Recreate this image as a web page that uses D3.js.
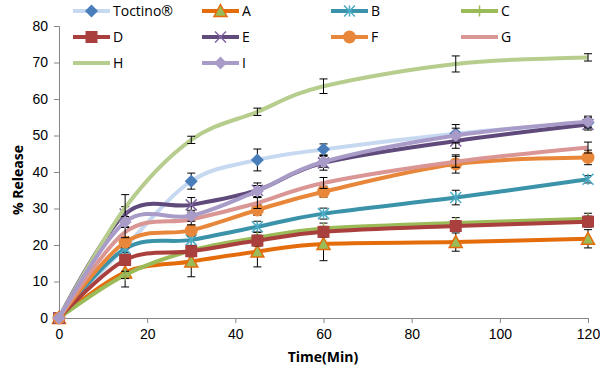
<!DOCTYPE html>
<html>
<head>
<meta charset="utf-8">
<script src="https://cdn.jsdelivr.net/npm/d3@7"></script>
<style>
body{margin:0;background:#fff}
svg{font-family:"Open Sans",sans-serif}
</style>
</head>
<body>
<svg width="600" height="371"></svg>
<script>
// ===== DATA =====
const time = [0,15,30,45,60,90,120]
const seriesNames = ["Toctino®","A","B","C","D","E","F","G","H","I"]

const toctino = [0,19.5,37.5,43.3,46.2,50.5,53.5]
const sA = [0,12.5,15.5,18.2,20.3,20.8,21.7]
const sB = [0,19,21.4,25,28.6,33,38]
const sC = [0,11.8,18.5,22,24.5,26,27.2]
const sD = [0,15.9,18.3,21.2,23.6,25.2,26.4]
const sE = [0,28.5,31,35,42.5,48.5,53]
const sF = [0,20.8,24,29.6,34.6,42.2,44]
const sG = [0,23.5,27,31.5,37,42.8,46.7]
const sH = [0,30.2,48.8,56.5,63.5,69.6,71.4]
const sI = [0,26.3,28,34.8,42.8,50,53.8]

const eToctino = [0,1.5,2.2,3,1.5,2.5,1.5]
const eA = [0,4,4.2,4.2,4.6,2.5,2.5]
const eB = [0,1.5,1.5,1.5,1.5,2,1]
const eC = [0,1,1,1.5,1.5,1.5,1.5]
const eD = [0,1.5,1.5,1.5,1.5,1.5,1.5]
const eE = [0,2,2,2,2,2,1.5]
const eF = [0,1.5,1.5,1.5,1.5,2.5,2]
const eG = [0,1.5,1.5,1.5,1.5,1.5,1.5]
const eH = [0,3.6,1,1,2,2.2,1]
const eI = [0,1.5,1.5,1.5,1.5,2,1.5]

const xTicks = [0,20,40,60,80,100,120]
const yTicks = [0,10,20,30,40,50,60,70,80]

// style per series: line colour, marker type, marker fill, marker stroke
const styles = [
  {line:"#c6d9f1", marker:"diamond", fill:"#4a7ebb", stroke:"#4a7ebb"},
  {line:"#e46c0a", marker:"triangle", fill:"#9bbb59", stroke:"#e46c0a"},
  {line:"#3b93aa", marker:"star", fill:"none", stroke:"#4bacc6"},
  {line:"#9bbb59", marker:"plus", fill:"none", stroke:"#9bbb59"},
  {line:"#a9403d", marker:"square", fill:"#a9403d", stroke:"#a9403d"},
  {line:"#604a7b", marker:"cross", fill:"none", stroke:"#8064a2"},
  {line:"#e8873a", marker:"circle", fill:"#e8873a", stroke:"#e8873a"},
  {line:"#d99694", marker:"none"},
  {line:"#b7cd8d", marker:"none"},
  {line:"#a99bc8", marker:"diamond", fill:"#a99bc8", stroke:"#a99bc8"}
]

const values = [toctino,sA,sB,sC,sD,sE,sF,sG,sH,sI]
const errors = [eToctino,eA,eB,eC,eD,eE,eF,eG,eH,eI]

const series = seriesNames.map((n,i)=>({
  name:n, style:styles[i],
  pts: time.map((t,j)=>({t:t, v:values[i][j], e:errors[i][j]}))
}))

// ===== CHART =====
const svg = d3.select("svg")

const x = d3.scaleLinear().domain([0,120]).range([59,588])
const y = d3.scaleLinear().domain([0,80]).range([318,26])

// AXES
const xAxis = svg.append("g")
.attr("transform","translate(0,318)")
.call(d3.axisBottom(x).tickValues(xTicks).tickSize(5).tickPadding(6))
xAxis.select(".domain").attr("stroke","#868686")
xAxis.selectAll("line").attr("stroke","#868686")
xAxis.selectAll("text").attr("font-size",14).attr("fill","#000")

const yAxis = svg.append("g")
.attr("transform","translate(59,0)")
.call(d3.axisLeft(y).tickValues(yTicks).tickSize(5).tickPadding(6))
yAxis.select(".domain").attr("stroke","#868686")
yAxis.selectAll("line").attr("stroke","#868686")
yAxis.selectAll("text").attr("font-size",14).attr("fill","#000")

// LABELS
svg.append("text")
.attr("x",323).attr("y",362)
.attr("text-anchor","middle")
.attr("font-size",14).attr("font-weight","bold")
.text("Time(Min)")

svg.append("text")
.attr("transform","rotate(-90)")
.attr("x",-180).attr("y",23)
.attr("text-anchor","middle")
.attr("font-size",14).attr("font-weight","bold")
.text("% Release")

// MARKERS
function drawMarker(g, st, cx, cy){
  const s = 5.5
  if(st.marker==="diamond"){
    g.append("path").attr("d",`M${cx},${cy-s-1}L${cx+s+1},${cy}L${cx},${cy+s+1}L${cx-s-1},${cy}Z`)
    .attr("fill",st.fill)
  }else if(st.marker==="triangle"){
    g.append("path").attr("d",`M${cx},${cy-s-1}L${cx+s+1},${cy+s}L${cx-s-1},${cy+s}Z`)
    .attr("fill",st.fill).attr("stroke",st.stroke).attr("stroke-width",1.5)
  }else if(st.marker==="square"){
    g.append("rect").attr("x",cx-s-0.5).attr("y",cy-s-0.5).attr("width",2*s+1).attr("height",2*s+1)
    .attr("fill",st.fill)
  }else if(st.marker==="circle"){
    g.append("circle").attr("cx",cx).attr("cy",cy).attr("r",s+1).attr("fill",st.fill)
  }else if(st.marker==="plus"){
    g.append("path").attr("d",`M${cx-s},${cy}H${cx+s}M${cx},${cy-s}V${cy+s}`)
    .attr("stroke",st.stroke).attr("stroke-width",1.5)
  }else if(st.marker==="cross"){
    g.append("path").attr("d",`M${cx-s},${cy-s}L${cx+s},${cy+s}M${cx-s},${cy+s}L${cx+s},${cy-s}`)
    .attr("stroke",st.stroke).attr("stroke-width",1.5)
  }else if(st.marker==="star"){
    g.append("path").attr("d",`M${cx-s},${cy-s}L${cx+s},${cy+s}M${cx-s},${cy+s}L${cx+s},${cy-s}M${cx},${cy-s}V${cy+s}`)
    .attr("stroke",st.stroke).attr("stroke-width",1.5)
  }
}

// LINES
const line = d3.line()
.x(d=>x(d.t))
.y(d=>y(d.v))
.curve(d3.curveCardinal.tension(0))

series.forEach(s=>{
  const g = svg.append("g")
  g.append("path")
  .datum(s.pts)
  .attr("fill","none")
  .attr("stroke",s.style.line)
  .attr("stroke-width",4)
  .attr("stroke-linejoin","round")
  .attr("d",line)

  // error bars
  s.pts.filter(p=>p.e>0).forEach(p=>{
    const cx = x(p.t), y1 = y(p.v+p.e), y2 = y(p.v-p.e)
    g.append("path")
    .attr("d",`M${cx},${y1}V${y2}M${cx-4},${y1}H${cx+4}M${cx-4},${y2}H${cx+4}`)
    .attr("stroke","#000").attr("stroke-width",1).attr("fill","none")
  })

  s.pts.forEach(p=>drawMarker(g, s.style, x(p.t), y(p.v)))
})

// LEGEND
const legCols = [73,202,331,461]
const legRows = [11,37,63]

series.forEach((s,i)=>{
  const lx = legCols[i%4], ly = legRows[Math.floor(i/4)]
  const g = svg.append("g")
  g.append("line")
  .attr("x1",lx).attr("x2",lx+37)
  .attr("y1",ly).attr("y2",ly)
  .attr("stroke",s.style.line).attr("stroke-width",4)
  drawMarker(g, s.style, lx+18.5, ly)
  g.append("text")
  .attr("x",lx+40).attr("y",ly+5)
  .attr("font-size",14)
  .text(s.name)
})
</script>
</body>
</html>
